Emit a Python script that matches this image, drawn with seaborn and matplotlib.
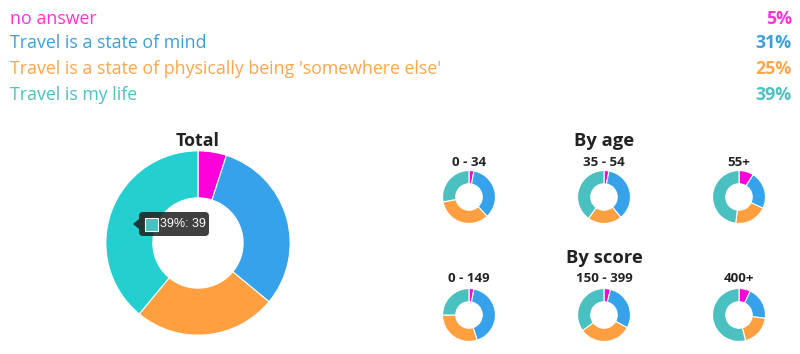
import matplotlib
matplotlib.use("Agg")
import matplotlib.pyplot as plt
import seaborn as sns
from matplotlib.patches import FancyBboxPatch, Rectangle, Polygon

sns.set_theme(style="white")
plt.rcParams['font.family'] = ['Open Sans', 'DejaVu Sans']

categories = ["no answer", "Travel is a state of mind",
              "Travel is a state of physically being 'somewhere else'", "Travel is my life"]
total_values = [5, 31, 25, 39]
total_labels = ["5%", "31%", "25%", "39%"]

age_groups = ["0 - 34", "35 - 54", "55+"]
age_values = [[3, 35, 34, 28], [3, 36, 21, 40], [9, 23, 20, 48]]
score_groups = ["0 - 149", "150 - 399", "400+"]
score_values = [[3, 42, 30, 25], [4, 29, 32, 35], [7, 20, 19, 54]]

palette = sns.color_palette(["#FF00DD", "#36A2EB", "#FF9F40", "#4BC0C0"])
text_colors = ["#FF33D6", "#3B9FE0", "#FFA64D", "#4DC0C0"]
total_colors = list(palette[:3]) + ["#24CFCF"]

W, H = 800, 354
fig = plt.figure(figsize=(W / 100, H / 100), dpi=100)
fig.patch.set_facecolor("white")

def px_axes(cx, cy, r):
    return fig.add_axes([(cx - r) / W, (H - cy - r) / H, 2 * r / W, 2 * r / H])

# legend rows
ys = [19.5, 43.5, 69.5, 95.5]
for cat, lab, col, y in zip(categories, total_labels, text_colors, ys):
    fig.text(10 / W, 1 - y / H, cat, color=col, fontsize=12.8, va="center", ha="left")
    fig.text(792 / W, 1 - y / H, lab, color=col, fontsize=12.8, va="center", ha="right",
             fontweight="bold")

def donut(ax, vals, colors, width):
    ax.pie(vals, colors=colors, startangle=90, counterclock=False,
           wedgeprops=dict(width=width, edgecolor="white", linewidth=0.8))
    ax.set_xlim(-1.02, 1.02)
    ax.set_ylim(-1.02, 1.02)
    ax.set_aspect("equal")
    ax.axis("off")

# Total
ax = px_axes(198, 243, 94)
donut(ax, total_values, total_colors, 0.51)
fig.text(198 / W, 1 - 141 / H, "Total", fontsize=12.8, fontweight="bold",
         color="#222222", ha="center", va="center")

# tooltip
tip_ax = fig.add_axes([0, 0, 1, 1], facecolor="none")
tip_ax.set_xlim(0, W)
tip_ax.set_ylim(H, 0)
tip_ax.axis("off")
tip_ax.add_patch(FancyBboxPatch((139, 212), 70, 24, boxstyle="round,pad=0,rounding_size=4",
                                facecolor="#1E1E1E", alpha=0.85, edgecolor="none"))
tip_ax.add_patch(Polygon([[139, 219], [133, 224], [139, 229]], closed=True,
                         facecolor="#1E1E1E", alpha=0.85, edgecolor="none"))
tip_ax.add_patch(Rectangle((145, 217.5), 13, 13, facecolor="#4BC0C0", edgecolor="white",
                           linewidth=0.8))
tip_ax.text(160, 224, "39%: 39", color="white", fontsize=9, va="center", ha="left",
            family=["Liberation Sans", "DejaVu Sans"])

# small donuts
xs = [469, 604, 739]
fig.text(604 / W, 1 - 141 / H, "By age", fontsize=13.2, fontweight="bold",
         color="#222222", ha="center", va="center")
for x, g, v in zip(xs, age_groups, age_values):
    a = px_axes(x, 197, 27)
    donut(a, v, list(palette), 0.5)
    fig.text(x / W, 1 - 162 / H, g, fontsize=9.5, fontweight="bold",
             color="#222222", ha="center", va="center")

fig.text(604 / W, 1 - 258 / H, "By score", fontsize=13.2, fontweight="bold",
         color="#222222", ha="center", va="center")
for x, g, v in zip(xs, score_groups, score_values):
    a = px_axes(x, 315, 27)
    donut(a, v, list(palette), 0.5)
    fig.text(x / W, 1 - 279 / H, g, fontsize=9.5, fontweight="bold",
             color="#222222", ha="center", va="center")

fig.savefig("out.png", dpi=100, facecolor="white")
